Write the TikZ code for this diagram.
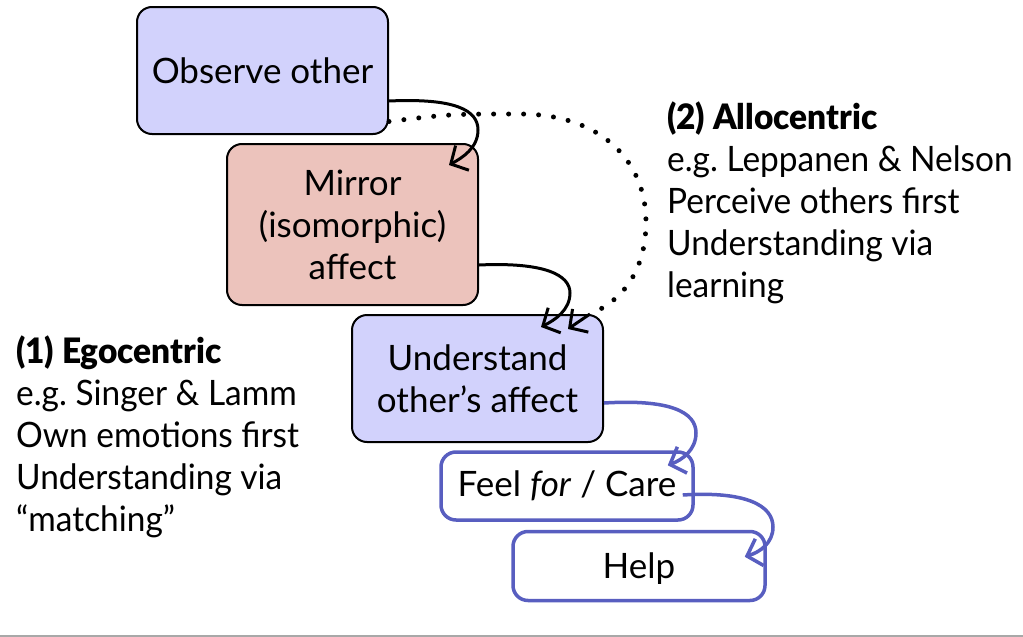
\documentclass[tikz,border=0pt]{standalone}
\usepackage{fontspec}
\setmainfont{Lato}[BoldFont={Lato Black}]
\newfontfamily\narrowlato{Lato}[BoldFont={Lato Black},FakeStretch=0.955]
\usetikzlibrary{arrows.meta}
\definecolor{lav}{RGB}{210,210,252}
\definecolor{salmon}{RGB}{236,195,188}
\definecolor{bluish}{RGB}{88,94,192}
\definecolor{grayline}{RGB}{168,168,168}
\tikzset{
  blackbox/.style={draw=black, line width=2pt, rounded corners=15pt, align=center, inner sep=0pt},
  bluebox/.style={draw=bluish, line width=3.5pt, rounded corners=15pt, fill=white, align=center, inner sep=0pt},
  tipstyle/.style={-{Straight Barb[length=13pt,width=28pt]}},
  blackarrow/.style={draw=black, line width=3pt, tipstyle},
  bluearrow/.style={draw=bluish, line width=3.5pt, tipstyle},
  dotpath/.style={draw=black, line width=5pt, line cap=round, dash pattern=on 0pt off 15pt},
  txt/.style={align=left, anchor=north west, inner sep=0pt},
}
\begin{document}
\frenchspacing
\begin{tikzpicture}[x=1pt,y=-1pt, font=\fontsize{35}{42}\selectfont]
\useasboundingbox (0,0) rectangle (1023,637);
\draw[grayline, line width=2pt] (0,636) -- (1023,636);

\node[blackbox, fill=lav, minimum width=251pt, minimum height=127pt] (obs) at (262.5,70.5) {Observe other};
\node[blackbox, fill=salmon, minimum width=251pt, minimum height=161pt] (mir) at (352.5,224.5) {Mirror\\(isomorphic)\\affect};
\node[blackbox, fill=lav, minimum width=251pt, minimum height=127pt] (und) at (477.5,378.5) {Understand\\other’s affect};
\node[bluebox, minimum width=252pt, minimum height=68pt] (feel) at (567,486) {Feel \textit{for} / Care};
\node[bluebox, minimum width=252pt, minimum height=69pt, text depth=0pt] (help) at (639,566) {Help};

% connectors
\draw[blackarrow] ([yshift=-30.5pt]obs.east) .. controls (455,98) and (478,110) .. (478,130)
   .. controls (478,148) and (462,158) .. ([xshift=-30pt,yshift=-22pt]mir.north east);
\draw[blackarrow] ([yshift=-40.5pt]mir.east) .. controls (545,262) and (570,275) .. (570,293)
   .. controls (570,310) and (555,320) .. ([xshift=-63pt,yshift=-13pt]und.north east);
\coordinate (dotend) at (590,314);
\draw[dotpath] ([yshift=-51pt]obs.east) .. controls (450,114) .. (520,114)
   .. controls (600,114) and (646,160) .. (646,222)
   .. controls (646,275) and (618,303) .. (dotend);
\draw[blackarrow] (dotend) -- ([xshift=-36pt,yshift=-15pt]und.north east);
\draw[bluearrow] ([yshift=-24.5pt]und.east) .. controls (670,399) and (696,412) .. (696,433)
   .. controls (696,450) and (682,460) .. ([xshift=-27pt,yshift=-15pt]feel.north east);
\draw[bluearrow] ([xshift=-12pt,yshift=-9pt]feel.east) .. controls (745,491) and (773,505) .. (773,527)
   .. controls (773,543) and (760,552) .. ([xshift=-22pt,yshift=-27pt]help.north east);

% side texts
\node[txt, font=\narrowlato\fontsize{35}{42}\selectfont] (ego) at (16,336) {\textbf{(1) Egocentric}\\e.g. Singer \& Lamm\\Own emotions first\\Understanding via\\“matching”};
\node[txt, font=\narrowlato\fontsize{35}{42}\selectfont] (allo) at (667,102) {\textbf{(2) Allocentric}\\e.g. Leppanen \& Nelson\\Perceive others first\\Understanding via\\learning};
\end{tikzpicture}
\end{document}
